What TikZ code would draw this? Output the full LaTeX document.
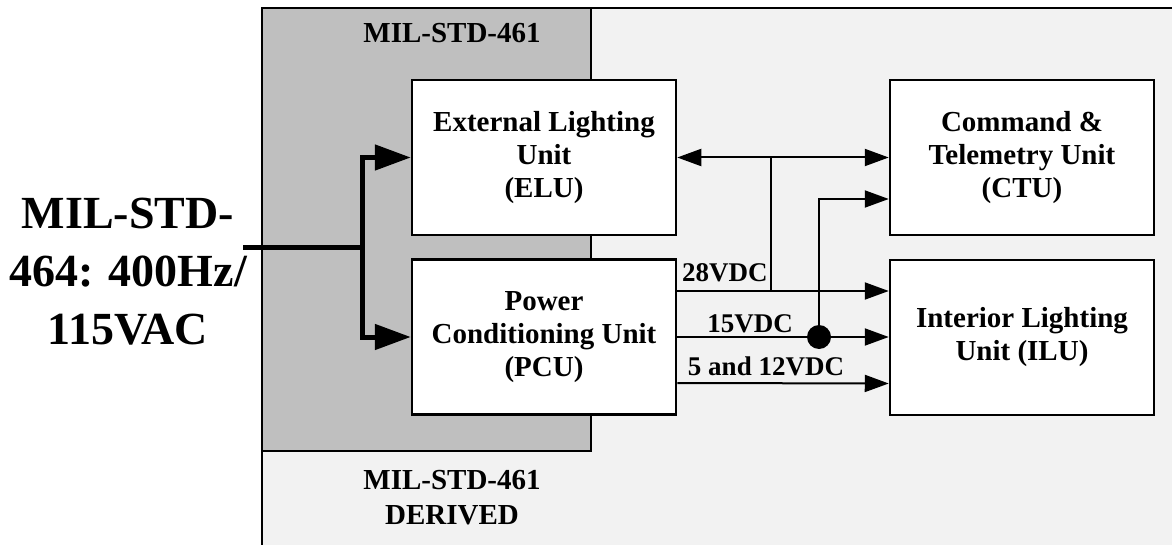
\documentclass[tikz,border=0pt]{standalone}
\usepackage{fontspec}
\setmainfont{Liberation Serif}
\usetikzlibrary{arrows.meta}
\definecolor{stdgray}{RGB}{191,191,191}
\definecolor{bggray}{RGB}{242,242,242}
\tikzset{
  unit/.style={draw, line width=2.5pt, fill=white, minimum width=264pt,
    minimum height=155pt, align=center, inner sep=0pt,
    font=\fontsize{29}{33}\selectfont\bfseries},
  region/.style={font=\fontsize{29}{35}\selectfont\bfseries, inner sep=2pt, align=center},
  lbl/.style={font=\fontsize{27}{33}\selectfont\bfseries, inner sep=2pt},
  bus/.style={line width=2pt, -{Triangle[length=24pt,width=17pt]}},
  feed/.style={line width=5pt, -{Triangle[length=36pt,width=25pt]}},
}
\begin{document}
\begin{tikzpicture}[x=1pt,y=-1pt]
  \useasboundingbox (0,0) rectangle (1172,545);
  \clip (0,0) rectangle (1172,545);
  % standard regions
  \draw[line width=2.5pt, fill=bggray] (262,8) rectangle (1200,580);
  \draw[line width=2.5pt, fill=stdgray] (262,8) rectangle (591,451);
  \node[region] (std) at (452,33) {MIL-STD-461};
  \node[region] (derived) at (452,498) {MIL-STD-461\\DERIVED};
  % units
  \node[unit] (elu) at (544,157.5) {External Lighting\\Unit\\(ELU)};
  \node[unit] (pcu) at (544,337) {Power\\Conditioning Unit\\(PCU)};
  \node[unit] (ctu) at (1022,157.5) {Command \&\\Telemetry Unit\\(CTU)};
  \node[unit] (ilu) at (1022,337.5) {Interior Lighting\\Unit (ILU)};
  % AC input
  \node[font=\fontsize{46}{58}\selectfont\bfseries, align=center] (ac) at (128,272)
    {MIL-STD-\\464: 400Hz/\\115VAC};
  \coordinate (acin) at (243,248);
  \coordinate (split) at (362,248);
  \draw[line width=5pt] (acin) -- (split);
  \draw[feed] (split) |- (elu.west);
  \draw[feed] (split) |- (pcu.west);
  % DC buses
  \coordinate (tap) at (771,0);
  \coordinate (p28) at ([yshift=46pt]pcu.east);
  \draw[bus, {Triangle[length=24pt,width=17pt]}-{Triangle[length=24pt,width=17pt]}]
    (elu.east) -- (ctu.west);
  \draw[bus] (p28) -- (p28 -| ilu.west);
  \node[lbl, anchor=base west] (l28) at (680,282) {28VDC};
  \draw[line width=2pt] (tap |- elu.east) -- (tap |- p28);
  \draw[bus] (pcu.east) -- (pcu.east -| ilu.west);
  \node[lbl, anchor=base] (l15) at (750,332) {15VDC};
  \node[circle, fill, minimum size=24pt, inner sep=0pt] (dot) at (819,337) {};
  \draw[bus] (dot.center) |- ([yshift=-41.5pt]ctu.west);
  \draw[bus] ([yshift=-46pt]pcu.east) -- ([yshift=-46pt]ilu.west);
  \node[lbl, anchor=base] (l512) at (766,375) {5 and 12VDC};
\end{tikzpicture}
\end{document}
